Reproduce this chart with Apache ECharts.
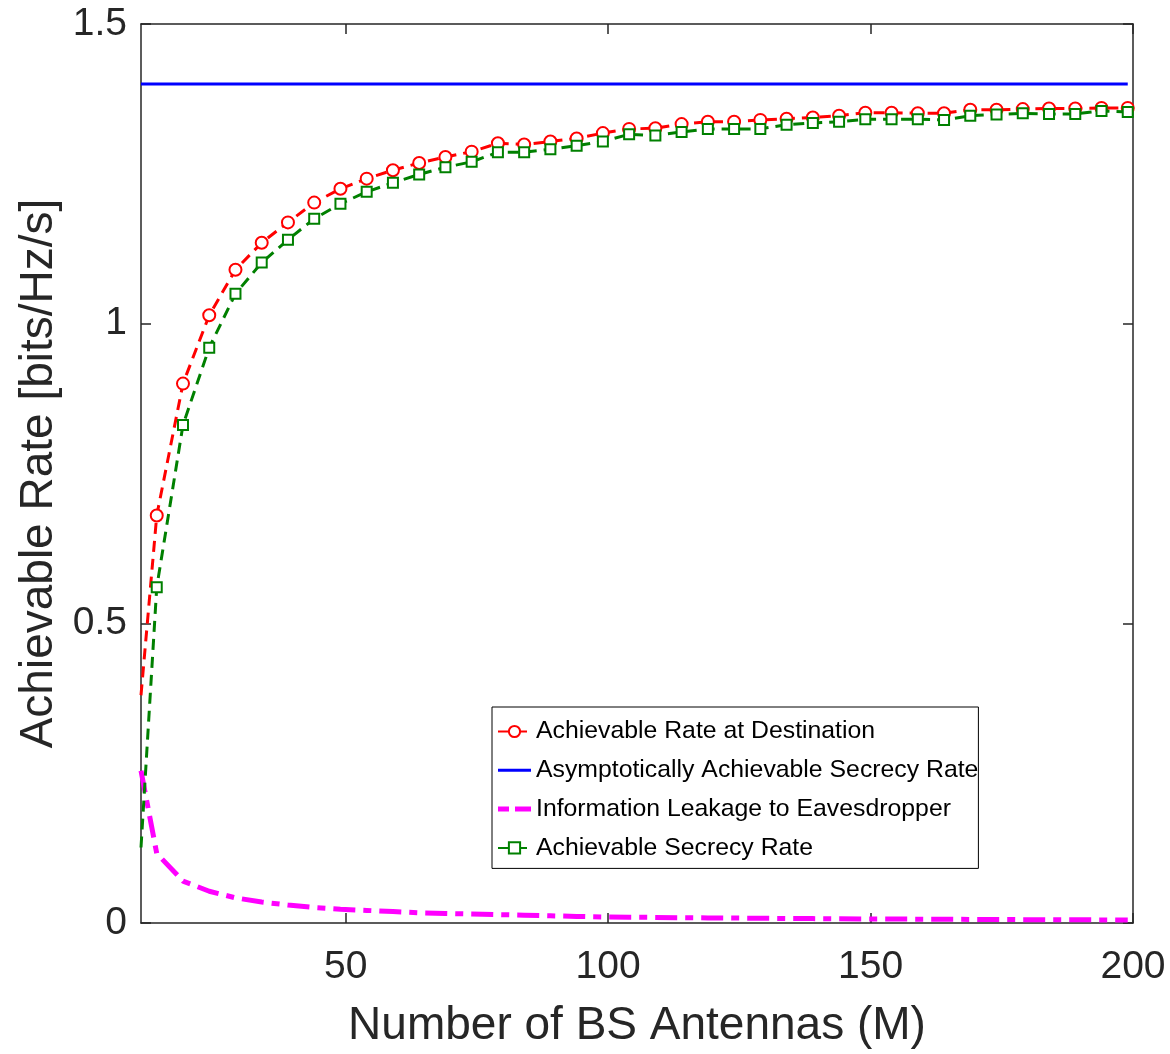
<!DOCTYPE html>
<html>
<head>
<meta charset="utf-8">
<script src="https://cdn.jsdelivr.net/npm/echarts@6/dist/echarts.min.js"></script>
<style>
html,body{margin:0;padding:0;background:#fff;}
#chart{width:1170px;height:1054px;}
</style>
</head>
<body>
<div id="chart"></div>
<script>
// Number of BS antennas (x values)
const antennas = [11,14,19,24,29,34,39,44,49,54,59,64,69,74,79,84,89,94,99,104,109,114,119,124,129,134,139,144,149,154,159,164,169,174,179,184,189,194,199];
// Achievable Rate at Destination
const rateDest = [0.38,0.68,0.900,1.014,1.090,1.135,1.169,1.202,1.225,1.242,1.256,1.268,1.278,1.287,1.301,1.299,1.304,1.309,1.318,1.325,1.326,1.333,1.337,1.337,1.340,1.342,1.344,1.347,1.352,1.352,1.351,1.351,1.357,1.357,1.358,1.359,1.359,1.360,1.360];
// Asymptotically Achievable Secrecy Rate
const rateAsym = [1.4,1.4,1.4,1.4,1.4,1.4,1.4,1.4,1.4,1.4,1.4,1.4,1.4,1.4,1.4,1.4,1.4,1.4,1.4,1.4,1.4,1.4,1.4,1.4,1.4,1.4,1.4,1.4,1.4,1.4,1.4,1.4,1.4,1.4,1.4,1.4,1.4,1.4,1.4];
// Information Leakage to Eavesdropper
const leakage = [0.254,0.116,0.070,0.053,0.042,0.035,0.030,0.026,0.023,0.021,0.019,0.017,0.016,0.015,0.014,0.013,0.012,0.011,0.010,0.0097,0.0093,0.0089,0.0085,0.0082,0.0079,0.0076,0.0073,0.0070,0.0068,0.0066,0.0064,0.0062,0.0060,0.0058,0.0056,0.0055,0.0053,0.0052,0.0050];
// Achievable Secrecy Rate
const rateSecrecy = [0.126,0.560,0.831,0.960,1.050,1.102,1.140,1.175,1.200,1.220,1.235,1.249,1.261,1.270,1.286,1.286,1.291,1.297,1.304,1.316,1.314,1.320,1.325,1.325,1.325,1.332,1.335,1.337,1.341,1.341,1.341,1.340,1.347,1.349,1.351,1.350,1.350,1.355,1.353];
// Tick labels
const xTicks = [50,100,150,200];
const yTicks = [0,0.5,1,1.5];

const seriesNames = ['Achievable Rate at Destination','Asymptotically Achievable Secrecy Rate','Information Leakage to Eavesdropper','Achievable Secrecy Rate'];

const FONT = '"Liberation Sans", Arial, Helvetica, sans-serif';
const AX = '#262626';

function withMarkers(vals){
  return antennas.map((m,i)=> i===0 ? {value:[m, vals[i]], symbol:'none'} : [m, vals[i]]);
}
function plain(vals){
  return antennas.map((m,i)=>[m, vals[i]]);
}

const chart = echarts.init(document.getElementById('chart'), null, {renderer:'canvas'});
const option = {
  animation:false,
  backgroundColor:'#fff',
  grid:{left:141, top:24, right:37, bottom:124, containLabel:false},
  legend:{
    orient:'vertical', left:492, top:707,
    padding:[12,0,8,5],
    itemWidth:33, itemHeight:14, itemGap:13.8,
    borderColor:'#000', borderWidth:1, backgroundColor:'#fff',
    textStyle:{fontFamily:FONT, fontSize:24.8, color:'#000', lineHeight:25},
    data:[
      {name:seriesNames[0]},
      {name:seriesNames[1], icon:'path://M0,0H33V3H0Z'},
      {name:seriesNames[2], icon:'path://M0,0H11V5H0Z M17,0H33V5H17Z'},
      {name:seriesNames[3]}
    ]
  },
  xAxis:[{
    type:'value', min:11, max:200, position:'bottom',
    name:'Number of BS Antennas (M)', nameLocation:'middle', nameGap:80,
    nameTextStyle:{fontFamily:FONT, fontSize:46, color:AX},
    axisLine:{show:true, onZero:false, lineStyle:{color:AX, width:1.5}},
    axisTick:{show:true, inside:true, length:10, customValues:xTicks, lineStyle:{color:AX, width:1.5}},
    axisLabel:{show:true, customValues:xTicks, margin:25, fontFamily:FONT, fontSize:39, color:AX},
    splitLine:{show:false}
  },{
    type:'value', min:11, max:200, position:'top',
    axisLine:{show:true, onZero:false, lineStyle:{color:AX, width:1.5}},
    axisTick:{show:true, inside:true, length:10, customValues:xTicks, lineStyle:{color:AX, width:1.5}},
    axisLabel:{show:false},
    splitLine:{show:false}
  }],
  yAxis:[{
    type:'value', min:0, max:1.5, interval:0.5, position:'left',
    name:'Achievable Rate [bits/Hz/s]', nameLocation:'middle', nameGap:69,
    nameTextStyle:{fontFamily:FONT, fontSize:46, color:AX},
    axisLine:{show:true, onZero:false, lineStyle:{color:AX, width:1.5}},
    axisTick:{show:true, inside:true, length:10, lineStyle:{color:AX, width:1.5}},
    axisLabel:{show:true, margin:14, fontFamily:FONT, fontSize:39, color:AX,
      formatter:function(v){return String(v);}},
    splitLine:{show:false}
  },{
    type:'value', min:0, max:1.5, interval:0.5, position:'right',
    axisLine:{show:true, onZero:false, lineStyle:{color:AX, width:1.5}},
    axisTick:{show:true, inside:true, length:10, lineStyle:{color:AX, width:1.5}},
    axisLabel:{show:false},
    splitLine:{show:false}
  }],
  series:[
    {
      name:seriesNames[0], type:'line', xAxisIndex:0, yAxisIndex:0,
      data:withMarkers(rateDest),
      symbol:'emptyCircle', symbolSize:12, showAllSymbol:true,
      lineStyle:{color:'#ff0000', width:3, type:[11,7]},
      itemStyle:{color:'#ff0000', borderColor:'#ff0000', borderWidth:3},
      z:2
    },
    {
      name:seriesNames[1], type:'line', xAxisIndex:0, yAxisIndex:0,
      data:plain(rateAsym), symbol:'none',
      lineStyle:{color:'#0000ff', width:3, type:'solid'},
      itemStyle:{color:'#0000ff'},
      z:3
    },
    {
      name:seriesNames[2], type:'line', xAxisIndex:0, yAxisIndex:0,
      data:plain(leakage), symbol:'none',
      lineStyle:{color:'#ff00ff', width:5, type:[22,8,8,8]},
      itemStyle:{color:'#ff00ff'},
      z:4
    },
    {
      name:seriesNames[3], type:'line', xAxisIndex:0, yAxisIndex:0,
      data:withMarkers(rateSecrecy),
      symbol:'emptyRect', symbolSize:10, showAllSymbol:true,
      lineStyle:{color:'#008000', width:3, type:[11,7]},
      itemStyle:{color:'#008000', borderColor:'#008000', borderWidth:3},
      z:5
    }
  ]
};
chart.setOption(option);
</script>
</body>
</html>
